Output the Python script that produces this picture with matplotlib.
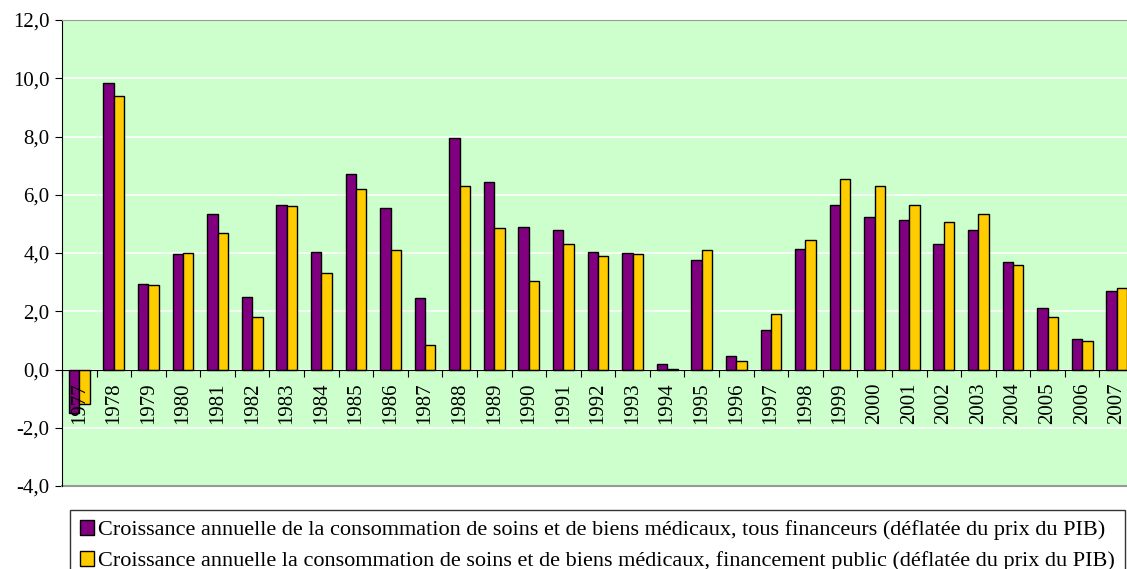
import numpy as np
import matplotlib.pyplot as plt

years = [str(y) for y in range(1977, 2008)]
tous = [-1.5, 9.85, 2.95, 3.95, 5.35, 2.5, 5.65, 4.05, 6.7, 5.55, 2.45, 7.95, 6.45,
        4.9, 4.8, 4.05, 4.0, 0.2, 3.75, 0.45, 1.35, 4.15, 5.65, 5.25, 5.15, 4.3,
        4.8, 3.7, 2.1, 1.05, 2.7]
public = [-1.2, 9.38, 2.9, 4.0, 4.7, 1.8, 5.6, 3.3, 6.2, 4.1, 0.85, 6.3, 4.85,
          3.05, 4.3, 3.9, 3.95, 0.03, 4.1, 0.3, 1.9, 4.45, 6.55, 6.3, 5.65, 5.05,
          5.35, 3.6, 1.8, 0.97, 2.8]
label1 = "Croissance annuelle de la consommation de soins et de biens médicaux, tous financeurs (déflatée du prix du PIB)"
label2 = "Croissance annuelle la consommation de soins et de biens médicaux, financement public (déflatée du prix du PIB)"

plt.rcParams['font.family'] = ['Liberation Serif', 'DejaVu Serif']

fig = plt.figure(figsize=(11.27, 5.69), dpi=100)
ax = fig.add_axes([62/1127, 1-486/569, 1072/1127, 466/569])
ax.set_facecolor('#CCFFCC')

x = np.arange(len(years))
w = 0.30
ax.bar(x - w/2, tous, w, color='#800080', edgecolor='black', linewidth=1, label=label1, zorder=3)
ax.bar(x + w/2, public, w, color='#FFCC00', edgecolor='black', linewidth=1, label=label2, zorder=3)

ax.set_xlim(-0.5, len(years) - 0.5)
ax.set_ylim(-4, 12)
ax.set_yticks(np.arange(-4, 13, 2))
ax.set_yticklabels([f"{v:.1f}".replace('.', ',') for v in np.arange(-4, 13, 2)], fontsize=15)
ax.yaxis.grid(True, color='white', linewidth=1.2, zorder=0)
ax.set_axisbelow(True)

# category axis crosses at 0
ax.spines['bottom'].set_position(('data', 0))
ax.spines['bottom'].set_color('black')
ax.spines['bottom'].set_zorder(4)
ax.spines['top'].set_color('#999999')
ax.spines['right'].set_visible(False)
ax.spines['left'].set_color('black')
ax.axhline(-4, color='#999999', linewidth=1.5, clip_on=False)

ax.set_xticks(np.arange(-0.5, len(years) + 0.5, 1))
ax.set_xticklabels([])
ax.set_xticks(x, minor=True)
ax.set_xticklabels(years, minor=True, rotation=90, fontsize=15)
ax.tick_params(axis='x', which='minor', length=0, pad=9)
ax.tick_params(axis='x', which='major', length=5, direction='out', color='black')
ax.tick_params(axis='y', length=5, direction='out', pad=4)
ax.xaxis.set_zorder(5)

leg = fig.legend(loc='upper left', bbox_to_anchor=(70/1127, 1-510/569), fontsize=16,
                 frameon=True, fancybox=False, edgecolor='black', handlelength=0.65,
                 handleheight=0.65, handletextpad=0.15, borderpad=0.45, labelspacing=0.47,
                 borderaxespad=0)
leg.get_frame().set_linewidth(1)

fig.savefig('out.png', dpi=100)
